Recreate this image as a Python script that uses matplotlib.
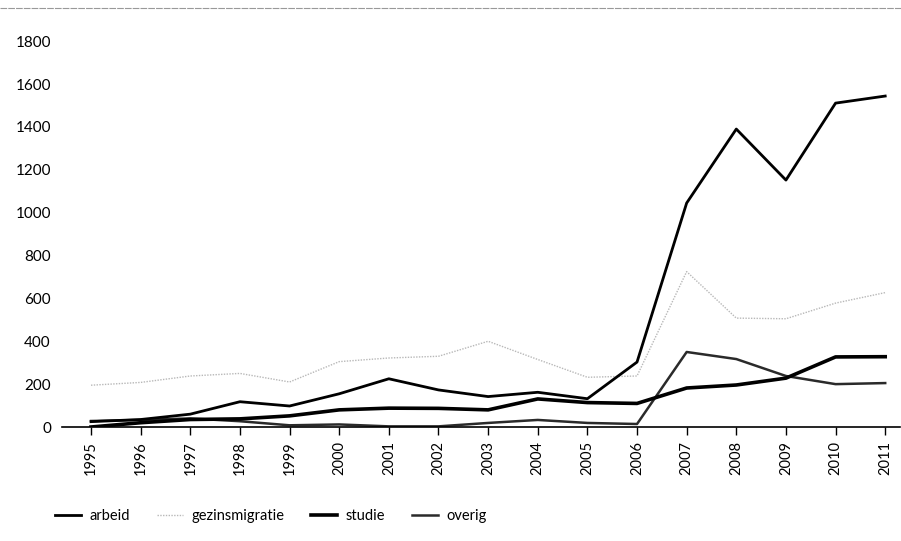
import matplotlib.pyplot as plt
from matplotlib.lines import Line2D

plt.rcParams['font.family'] = ['Lato', 'DejaVu Sans']

jaren = list(range(1995, 2012))
arbeid = [25, 35, 60, 118, 98, 155, 225, 173, 142, 162, 132, 303, 1045, 1390, 1152, 1511, 1544]
gezinsmigratie = [195, 208, 238, 250, 210, 305, 322, 330, 400, 315, 232, 238, 725, 508, 505, 578, 627]
studie = [0, 20, 35, 38, 52, 80, 88, 87, 80, 131, 114, 110, 182, 196, 228, 327, 328]
overig = [28, 33, 40, 27, 8, 12, 3, 3, 19, 33, 19, 14, 350, 317, 238, 200, 205]

fig = plt.figure(figsize=(9.01, 5.41), dpi=100)
ax = fig.add_axes([0.0688, 0.2107, 0.9302, 0.7338])

ax.plot(jaren, gezinsmigratie, color='#b8b8b8', lw=1.0, ls=(0, (1, 1)), label='gezinsmigratie')
ax.plot(jaren, overig, color='#2a2a2a', lw=1.8, label='overig')
ax.plot(jaren, studie, color='black', lw=2.6, label='studie')
ax.plot(jaren, arbeid, color='black', lw=2.0, label='arbeid')

ax.set_xlim(1994.415, 2011.3)
ax.set_ylim(0, 1852)
ax.set_xticks(jaren)
ax.set_xticklabels([str(j) for j in jaren], rotation=90, fontsize=10.5)
ax.set_yticks(range(0, 1801, 200))
ax.tick_params(axis='y', length=0, pad=8, labelsize=11)
ax.tick_params(axis='x', length=6, width=1, direction='out', pad=4)
for s in ['top', 'right', 'left']:
    ax.spines[s].set_visible(False)
ax.spines['bottom'].set_linewidth(1.2)

# grijze lijn bovenaan
fig.add_artist(Line2D([0, 1], [0.985, 0.985], transform=fig.transFigure,
                      color='#999999', lw=0.8, ls=(0, (6, 1))))

handles, labels = ax.get_legend_handles_labels()
order = ['arbeid', 'gezinsmigratie', 'studie', 'overig']
hmap = dict(zip(labels, handles))
fig.legend([hmap[k] for k in order], order, loc='center left',
           bbox_to_anchor=(0.061, 0.046), ncol=4, frameon=False, fontsize=10.5,
           borderpad=0, borderaxespad=0,
           handlelength=1.8, columnspacing=1.8, handletextpad=0.6)

fig.savefig('out.png', dpi=100)
